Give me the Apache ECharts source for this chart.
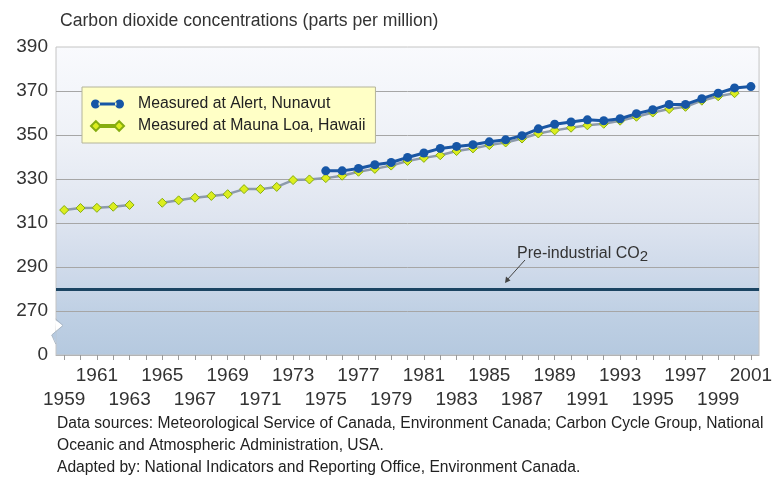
<!DOCTYPE html>
<html>
<head>
<meta charset="utf-8">
<script src="https://cdn.jsdelivr.net/npm/echarts@6/dist/echarts.min.js"></script>
<style>
  html, body { margin: 0; padding: 0; background: #fff; }
  #chart { width: 775px; height: 481px; }
</style>
</head>
<body>
<div id="chart"></div>
<script>
// axis is broken between 0 and 270, so everything is drawn shifted by this
const AXIS_BREAK = 250;
const PRE_INDUSTRIAL = 280;

const years = [];
for (let y = 1959; y <= 2001; y++) years.push(String(y));

// Mauna Loa, Hawaii 1959-2000 (1964 missing)
const maunaLoa = [
  315.9, 316.8, 316.9, 317.4, 318.2, null, 319.2, 320.3, 321.5, 322.3,
  323.1, 325.4, 325.4, 326.4, 329.5, 329.8, 330.4, 331.5, 333.3, 334.6,
  336.1, 338.2, 339.6, 340.8, 342.7, 343.9, 345.4, 346.6, 348.4, 350.7,
  352.1, 353.3, 354.4, 355.1, 356.5, 358.3, 360.2, 361.8, 362.8, 365.6,
  367.6, 369.0
];
const maunaLoaStart = 1959;

// Alert, Nunavut 1975-2001
const alert = [
  333.7, 333.7, 334.8, 336.5, 337.5, 339.8, 341.8, 343.9, 344.8, 345.6,
  346.9, 347.8, 349.7, 352.8, 354.9, 355.9, 356.9, 356.5, 357.4, 359.7,
  361.5, 363.9, 363.9, 366.5, 369.0, 371.4, 372.0
];
const alertStart = 1975;

const yTicks = [0, 270, 290, 310, 330, 350, 370, 390];

const FONT = "'Liberation Sans', Arial, sans-serif";

function toSeries (values, start) {
  return years.map(function (y) {
    const v = values[+y - start];
    return (v === undefined || v === null) ? '-' : +(v - AXIS_BREAK).toFixed(2);
  });
}

const chart = echarts.init(document.getElementById('chart'));

chart.setOption({
  animation: false,
  textStyle: { fontFamily: FONT },
  title: {
    text: 'Carbon dioxide concentrations (parts per million)',
    left: 55,
    top: 7,
    textStyle: { fontFamily: FONT, fontSize: 17.6, fontWeight: 'normal', color: '#333' }
  },
  legend: {
    orient: 'vertical',
    left: 82,
    top: 87,
    padding: [8, 10, 8, 8],
    itemGap: 4,
    itemWidth: 33,
    itemHeight: 10,
    backgroundColor: '#ffffc6',
    borderColor: '#b4b49a',
    borderWidth: 1,
    textStyle: { fontFamily: FONT, fontSize: 15.8, color: '#222', lineHeight: 18, padding: [0, 0, 0, 9] },
    data: [
      { name: 'Measured at Alert, Nunavut',
        icon: 'path://M0.5,5a4.5,4.5 0 1,0 9,0a4.5,4.5 0 1,0 -9,0Z M8,3.5H26V6.5H8Z M24.5,5a4.5,4.5 0 1,0 9,0a4.5,4.5 0 1,0 -9,0Z' },
      { name: 'Measured at Mauna Loa, Hawaii',
        icon: 'path://M0,5L5,0L10,5L5,10Z M9,4H25V6H9Z M24,5L29,0L34,5L29,10Z' }
    ]
  },
  grid: {
    left: 56,
    right: 13,
    top: 47,
    bottom: 126,
    show: true,
    borderColor: '#c4c4c4',
    borderWidth: 1,
    backgroundColor: new echarts.graphic.LinearGradient(0, 0, 0, 1, [
      { offset: 0, color: '#f9fafd' },
      { offset: 0.3, color: '#eef1f7' },
      { offset: 0.55, color: '#dfe5f0' },
      { offset: 0.75, color: '#ccd8e9' },
      { offset: 0.86, color: '#bfd0e4' },
      { offset: 1, color: '#b5c9df' }
    ])
  },
  xAxis: {
    type: 'category',
    data: years,
    boundaryGap: true,
    axisLine: { show: true, lineStyle: { color: '#b4b4b4' } },
    axisTick: { show: true, alignWithLabel: true, interval: 0, length: 5, lineStyle: { color: '#9a9a9a' } },
    axisLabel: {
      interval: 0,
      margin: 9,
      color: '#333',
      fontFamily: FONT,
      fontSize: 19,
      lineHeight: 24,
      formatter: function (v) {
        const y = +v;
        if (y % 2 === 0) return '';
        return (y % 4 === 1) ? v : '\n' + v;
      }
    },
    splitLine: { show: false }
  },
  yAxis: {
    type: 'value',
    min: 0,
    max: 140,
    interval: 20,
    axisLine: { show: false },
    axisTick: { show: false },
    axisLabel: {
      margin: 8,
      color: '#333',
      fontFamily: FONT,
      fontSize: 19,
      formatter: function (v) { return String(yTicks[v / 20]); }
    },
    splitLine: { show: true, showMinLine: false, showMaxLine: false, lineStyle: { color: '#a6a6a6', width: 1 } }
  },
  series: [
    {
      name: 'Measured at Mauna Loa, Hawaii',
      type: 'line',
      data: toSeries(maunaLoa, maunaLoaStart),
      connectNulls: false,
      symbol: 'diamond',
      symbolSize: 9,
      showAllSymbol: true,
      lineStyle: { color: '#8d9aab', width: 2.5 },
      itemStyle: { color: '#dcee1e', borderColor: '#86ad10', borderWidth: 1 },
      z: 3
    },
    {
      name: 'Measured at Alert, Nunavut',
      type: 'line',
      data: toSeries(alert, alertStart),
      symbol: 'circle',
      symbolSize: 9,
      showAllSymbol: true,
      lineStyle: { color: '#1a56a3', width: 3 },
      itemStyle: { color: '#1656a6' },
      z: 4,
      markLine: {
        silent: true,
        symbol: 'none',
        label: { show: false },
        lineStyle: { color: '#1b4462', width: 3, type: 'solid' },
        data: [{ yAxis: PRE_INDUSTRIAL - AXIS_BREAK }]
      }
    }
  ],
  graphic: [
    // zigzag for the axis break
    { type: 'polygon', z: 100, shape: { points: [[55, 320], [63, 325.5], [55.8, 331.6]] }, style: { fill: '#fff' } },
    { type: 'polygon', z: 100, shape: { points: [[56.5, 331], [51.7, 335], [56.5, 343.5]] }, style: { fill: '#b6cae0' } },
    { type: 'polyline', z: 101, shape: { points: [[55.8, 319], [63, 325.5], [51.7, 335], [55.8, 344]] }, style: { stroke: '#a9b6c4', lineWidth: 1, fill: null } },
    // pre-industrial note
    {
      type: 'text', z: 100, left: 517, top: 243,
      style: {
        text: '{a|Pre-industrial CO}{s|2}',
        fill: '#333',
        rich: {
          a: { fontFamily: FONT, fontSize: 16, lineHeight: 18 },
          s: { fontFamily: FONT, fontSize: 15, lineHeight: 18, padding: [6, 0, 0, 0] }
        }
      }
    },
    { type: 'line', z: 100, shape: { x1: 525, y1: 260, x2: 507, y2: 280 }, style: { stroke: '#444', lineWidth: 1 } },
    { type: 'polygon', z: 100, shape: { points: [[505, 283], [506, 276.5], [510.5, 280.5]] }, style: { fill: '#444' } },
    // sources
    {
      type: 'text', z: 100, left: 57, top: 413,
      style: {
        text: 'Data sources: Meteorological Service of Canada, Environment Canada; Carbon Cycle Group, National\nOceanic and Atmospheric Administration, USA.\nAdapted by: National Indicators and Reporting Office, Environment Canada.',
        fontFamily: FONT,
        fontSize: 15.6,
        lineHeight: 22,
        fill: '#222'
      }
    }
  ]
});
</script>
</body>
</html>
